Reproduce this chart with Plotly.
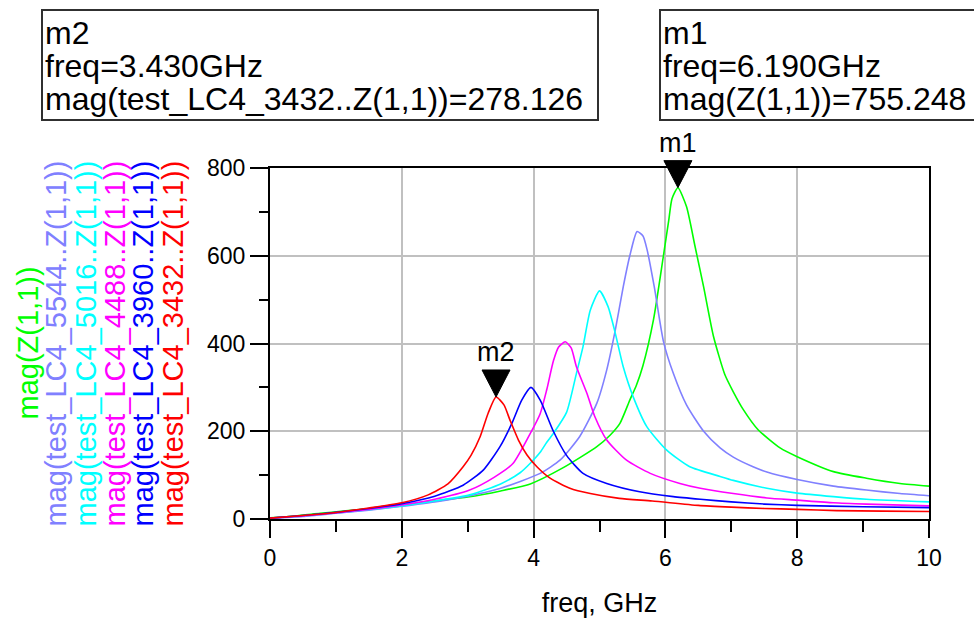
import plotly.graph_objects as go

# ---------------- data ----------------
RED_F = [0, 0.5, 1.0, 1.5, 2.0, 2.4, 2.7, 2.93, 3.05, 3.19, 3.31, 3.43, 3.55, 3.64, 3.77, 3.9, 4.05, 4.25,
         4.55, 4.86, 5.3, 5.8, 6.5, 7.0, 7.5, 8.0, 8.6, 9.3, 10]
RED_V = [2, 8, 15, 25, 37, 55, 80, 119, 145, 188, 241, 278, 260, 226, 180, 146, 119, 93,
         70, 58, 47, 41, 31, 27, 24, 22, 19, 18, 17]

BLUE_F = [0, 0.5, 1.0, 1.5, 2.0, 2.5, 2.93, 3.24, 3.49, 3.67, 3.82, 3.96, 4.1, 4.3, 4.5, 4.75, 5.11,
          5.61, 6.12, 6.53, 7.0, 7.5, 8.0, 9.0, 10]
BLUE_V = [2, 8, 15, 24, 35, 52, 77, 112, 165, 218, 271, 300, 271, 200, 145, 104, 81,
          62, 51, 45, 39, 34, 31, 28, 26]

MAGENTA_F = [0, 0.5, 1.0, 1.5, 2.0, 2.5, 3.03, 3.4, 3.69, 3.95, 4.1, 4.2, 4.3, 4.38, 4.48, 4.57, 4.65,
             4.81, 4.93, 5.11, 5.41, 5.77, 6.22, 6.53, 7.03, 7.54, 8.0, 8.55, 9.05, 10]
MAGENTA_V = [2, 7, 14, 22, 32, 45, 66, 95, 127, 195, 240, 295, 360, 392, 404, 390, 347,
             286, 233, 180, 134, 104, 81, 70, 58, 48, 43, 37, 34, 30]

CYAN_F = [0, 0.5, 1.0, 1.5, 2.0, 2.5, 3.03, 3.5, 3.8, 3.95, 4.1, 4.2, 4.3, 4.5, 4.65, 4.75, 4.86, 5.0,
          5.13, 5.24, 5.36, 5.51, 5.72, 6.02, 6.37, 6.83, 7.03, 7.54, 8.0, 8.55, 9.05, 10]
CYAN_V = [2, 7, 14, 21, 30, 41, 55, 80, 106, 127, 152, 175, 195, 243, 332, 393, 476, 520,
          484, 423, 347, 279, 210, 157, 119, 97, 88, 70, 59, 51, 45, 39]

PURPLE_F = [0, 0.5, 1.0, 1.5, 2.0, 2.5, 3.0, 3.5, 4.1, 4.4, 4.7, 4.96, 5.11, 5.24, 5.36, 5.46, 5.57,
            5.66, 5.72, 5.83, 5.97, 6.12, 6.32, 6.58, 6.83, 7.03, 7.33, 7.54, 8.0, 8.55, 9.05, 9.56, 10]
PURPLE_V = [2, 6, 13, 20, 29, 39, 52, 70, 104, 134, 188, 264, 340, 431, 529, 600, 655,
            645, 615, 530, 405, 332, 260, 200, 162, 141, 119, 107, 90, 75, 66, 58, 53]

GREEN_F = [0, 0.38, 0.76, 1.11, 1.52, 2.02, 2.5, 3.0, 3.5, 3.95, 4.45, 4.96, 5.16, 5.31, 5.46, 5.56,
           5.66, 5.82, 5.97, 6.05, 6.10, 6.19, 6.32, 6.45, 6.58, 6.73, 6.9, 7.03, 7.18, 7.41, 7.74,
           8.0, 8.55, 9.05, 9.56, 10]
GREEN_V = [3, 7, 13, 18, 24, 32, 41, 50, 64, 80, 117, 165, 191, 218, 271, 305,
           350, 455, 600, 680, 730, 755, 712, 621, 529, 416, 330, 290, 250, 203, 162,
           142, 108, 93, 81, 75]

SERIES_NAMES = ["mag(Z(1,1))",
                "mag(test_LC4_5544..Z(1,1))",
                "mag(test_LC4_5016..Z(1,1))",
                "mag(test_LC4_4488..Z(1,1))",
                "mag(test_LC4_3960..Z(1,1))",
                "mag(test_LC4_3432..Z(1,1))"]

# markers
M1_F, M1_V = 6.19, 755.248
M2_F, M2_V = 3.43, 278.126

X_TICKS = [0, 2, 4, 6, 8, 10]
Y_TICKS = [0, 200, 400, 600, 800]
X_MAX, Y_MAX = 10, 800

# ---------------- style ----------------
W, H = 974, 625
L, R, T, B = 270, 45, 168, 106
PW, PH = W - L - R, H - T - B
FONT = "Liberation Sans, Arial, sans-serif"

COLORS = ["#00ff00", "#8080ff", "#00ffff", "#ff00ff", "#0000ff", "#ff0000"]
DATA = [(GREEN_F, GREEN_V), (PURPLE_F, PURPLE_V), (CYAN_F, CYAN_V),
        (MAGENTA_F, MAGENTA_V), (BLUE_F, BLUE_V), (RED_F, RED_V)]


def px_x(px):
    return (px - L) / PW


def px_y(py):
    return (T + PH - py) / PH


fig = go.Figure()
for (f, v), c, n in zip(DATA, COLORS, SERIES_NAMES):
    fig.add_trace(go.Scatter(x=f, y=v, mode="lines", name=n,
                             line=dict(color=c, width=1.6, shape="spline", smoothing=0.6),
                             hoverinfo="skip", showlegend=False))

axis_common = dict(showline=True, linecolor="black", linewidth=2, mirror=True,
                   ticks="outside", tickcolor="black", tickwidth=2,
                   showgrid=True, gridcolor="#c0c0c0", gridwidth=2, zeroline=False,
                   tickfont=dict(family=FONT, size=23, color="black"))

fig.update_xaxes(range=[0, X_MAX], tickvals=X_TICKS, ticklen=17,
                 minor=dict(dtick=1, ticklen=11, tickwidth=2, tickcolor="black", showgrid=False),
                 title=dict(text="freq, GHz", font=dict(family=FONT, size=27, color="black"), standoff=24),
                 **axis_common)
fig.update_yaxes(range=[0, Y_MAX], tickvals=Y_TICKS, ticklen=18,
                 minor=dict(dtick=100, ticklen=9, tickwidth=2, tickcolor="black", showgrid=False),
                 **axis_common)

shapes = []
annotations = []

# marker triangles and labels
for mf, mv, lab in [(M1_F, M1_V, "m1"), (M2_F, M2_V, "m2")]:
    shapes.append(dict(type="path", xref="x", yref="paper", xsizemode="pixel", ysizemode="pixel",
                       xanchor=mf, yanchor=mv / Y_MAX, path="M -14,27 L 14,27 L 0,0 Z",
                       fillcolor="black", line=dict(color="black", width=1), layer="above"))
    annotations.append(dict(x=mf, y=mv, xref="x", yref="y", text=lab, showarrow=False,
                            xanchor="center", yanchor="bottom", yshift=28,
                            font=dict(family=FONT, size=27, color="black")))

# marker readout boxes
boxes = [
    (42, 598, ["m2", "freq=%.3fGHz" % M2_F, "mag(test_LC4_3432..Z(1,1))=%.3f" % M2_V]),
    (660, 990, ["m1", "freq=%.3fGHz" % M1_F, "mag(Z(1,1))=%.3f" % M1_V]),
]
for x0, x1, lines in boxes:
    shapes.append(dict(type="rect", xref="paper", yref="paper",
                       x0=px_x(x0), x1=px_x(x1), y0=px_y(120), y1=px_y(10),
                       line=dict(color="#303030", width=2), fillcolor="rgba(0,0,0,0)"))
    for i, t in enumerate(lines):
        annotations.append(dict(x=px_x(x0 + 1), y=px_y(33 + 33 * i), xref="paper", yref="paper",
                                text=t, showarrow=False, xanchor="left", yanchor="middle",
                                font=dict(family=FONT, size=32, color="black")))

# rotated, coloured y-axis titles
title_x = [27, 55, 85, 114, 142, 172]
for n, c, xp in zip(SERIES_NAMES, COLORS, title_x):
    annotations.append(dict(x=px_x(xp), y=0.5, xref="paper", yref="paper", text=n,
                            showarrow=False, textangle=-90, xanchor="center", yanchor="middle",
                            font=dict(family=FONT, size=29, color=c)))

fig.update_layout(width=W, height=H, margin=dict(l=L, r=R, t=T, b=B),
                  plot_bgcolor="white", paper_bgcolor="white",
                  shapes=shapes, annotations=annotations, showlegend=False,
                  hovermode=False)

fig.write_html("out.html")
